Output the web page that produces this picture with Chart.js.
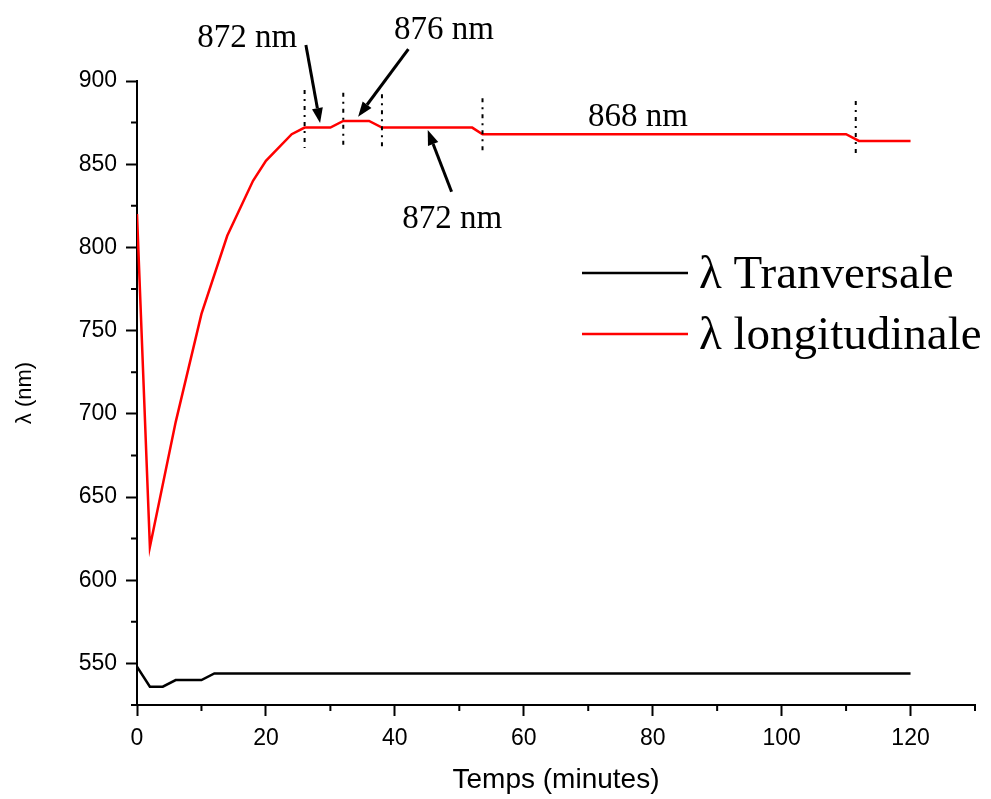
<!DOCTYPE html>
<html>
<head>
<meta charset="utf-8">
<script src="https://cdn.jsdelivr.net/npm/chart.js@4.4.1/dist/chart.umd.min.js"></script>
<style>
  body { margin: 0; background: #fff; }
</style>
</head>
<body>
<canvas id="myChart" width="991" height="799"></canvas>
<script>
// Readings: time (minutes) and wavelength (nm)
var tTrans = [0, 2, 4, 6, 10, 12, 120];
var lambdaTrans = [548, 536, 536, 540, 540, 544, 544];
var tLong = [0, 2, 6, 10, 14, 18, 20, 24, 26, 30, 32, 36, 38, 52, 53.6, 110, 112, 120];
var lambdaLong = [820, 620, 695, 760, 807, 840, 852, 868, 872, 872, 876, 876, 872, 872, 868, 868, 864, 864];

// Axis ticks
var xTicks = [0, 20, 40, 60, 80, 100, 120];
var xMinor = [10, 30, 50, 70, 90, 110, 130];
var yTicks = [550, 600, 650, 700, 750, 800, 850, 900];
var yMinor = [525, 575, 625, 675, 725, 775, 825, 875];

// Annotations (data units)
var noteText = ['872 nm', '876 nm', '868 nm', '872 nm'];
var noteX = [17.1, 47.6, 77.7, 48.9];
var noteY = [920.4, 925, 873.1, 811.6];
var arrowX0 = [26.2, 42.1, 48.8];
var arrowY0 = [921.6, 919.2, 833.4];
var arrowX1 = [28.4, 34.3, 45.1];
var arrowY1 = [874.7, 878.5, 870.5];
var markX = [26, 32, 38, 53.6, 111.5];
var markTop = [894.6, 893, 892, 889.6, 888];
var markBottom = [859.7, 859.5, 858.5, 856, 854.3];

function pts(xs, ys) {
  return xs.map(function (x, i) { return { x: x, y: ys[i] }; });
}

// minor ticks, shorter than the major ones
var minorTicks = {
  id: 'minorTicks',
  afterDraw: function (chart) {
    var ctx = chart.ctx, xs = chart.scales.x, ys = chart.scales.y;
    ctx.save();
    ctx.strokeStyle = '#000';
    ctx.lineWidth = 2;
    ctx.beginPath();
    xMinor.forEach(function (v) {
      var px = xs.getPixelForValue(v);
      ctx.moveTo(px, xs.top); ctx.lineTo(px, xs.top + 6);
    });
    yMinor.forEach(function (v) {
      var py = ys.getPixelForValue(v);
      ctx.moveTo(ys.right, py); ctx.lineTo(ys.right - 6, py);
    });
    ctx.stroke();
    ctx.restore();
  }
};

// dashed markers, arrows and labels
var notes = {
  id: 'notes',
  afterDatasetsDraw: function (chart) {
    var ctx = chart.ctx, xs = chart.scales.x, ys = chart.scales.y;
    ctx.save();
    ctx.strokeStyle = '#000';
    ctx.lineWidth = 2;
    ctx.setLineDash([4, 5, 2, 5]);
    markX.forEach(function (v, i) {
      var px = xs.getPixelForValue(v);
      ctx.beginPath();
      ctx.moveTo(px, ys.getPixelForValue(markTop[i]));
      ctx.lineTo(px, ys.getPixelForValue(markBottom[i]));
      ctx.stroke();
    });
    ctx.setLineDash([]);
    ctx.fillStyle = '#000';
    ctx.lineWidth = 3;
    arrowX0.forEach(function (v, i) {
      var x0 = xs.getPixelForValue(v), y0 = ys.getPixelForValue(arrowY0[i]);
      var x1 = xs.getPixelForValue(arrowX1[i]), y1 = ys.getPixelForValue(arrowY1[i]);
      var a = Math.atan2(y1 - y0, x1 - x0), len = 15, hw = 5.5;
      var bx = x1 - len * Math.cos(a), by = y1 - len * Math.sin(a);
      ctx.beginPath();
      ctx.moveTo(x0, y0); ctx.lineTo(bx, by);
      ctx.stroke();
      ctx.beginPath();
      ctx.moveTo(x1, y1);
      ctx.lineTo(bx + hw * Math.sin(a), by - hw * Math.cos(a));
      ctx.lineTo(bx - hw * Math.sin(a), by + hw * Math.cos(a));
      ctx.closePath();
      ctx.fill();
    });
    ctx.font = '33px "Liberation Serif", "Times New Roman", serif';
    ctx.textAlign = 'center';
    ctx.textBaseline = 'alphabetic';
    noteText.forEach(function (t, i) {
      ctx.fillText(t, xs.getPixelForValue(noteX[i]), ys.getPixelForValue(noteY[i]));
    });
    ctx.restore();
  }
};

// legend drawn inside the plot
var innerLegend = {
  id: 'innerLegend',
  afterDraw: function (chart) {
    var ctx = chart.ctx, area = chart.chartArea;
    var x = area.left + 445, y = area.top + 192;
    ctx.save();
    ctx.font = '47px "Liberation Serif", "Times New Roman", serif';
    ctx.textAlign = 'left';
    ctx.textBaseline = 'alphabetic';
    chart.data.datasets.forEach(function (ds, i) {
      var ly = y + i * 61;
      ctx.strokeStyle = ds.borderColor;
      ctx.lineWidth = 2.5;
      ctx.beginPath();
      ctx.moveTo(x, ly); ctx.lineTo(x + 106, ly);
      ctx.stroke();
      ctx.fillStyle = '#000';
      ctx.fillText(ds.label, x + 117, ly + 15);
    });
    ctx.restore();
  }
};

var tickFont = { family: '"Liberation Sans", Arial, sans-serif', size: 23 };

var ctx = document.getElementById('myChart');
var myChart = new Chart(ctx, {
  type: 'line',
  data: {
    datasets: [
      {
        label: 'λ Tranversale',
        data: pts(tTrans, lambdaTrans),
        borderColor: '#000000',
        borderWidth: 2.5,
        pointRadius: 0,
        fill: false
      },
      {
        label: 'λ longitudinale',
        data: pts(tLong, lambdaLong),
        borderColor: '#ff0000',
        borderWidth: 2.5,
        pointRadius: 0,
        fill: false
      }
    ]
  },
  options: {
    responsive: false,
    animation: false,
    layout: { padding: { top: 81, right: 16, left: 0, bottom: 0 } },
    plugins: { legend: { display: false }, tooltip: { enabled: false } },
    scales: {
      x: {
        type: 'linear',
        min: 0,
        max: 130,
        afterBuildTicks: function (s) { s.ticks = xTicks.map(function (v) { return { value: v }; }); },
        afterFit: function (s) { s.height = 94; },
        border: { color: '#000', width: 2 },
        grid: { drawOnChartArea: false, tickLength: 11, tickWidth: 2, tickColor: '#000' },
        ticks: { color: '#000', font: tickFont, padding: 9, maxRotation: 0 },
        title: {
          display: true,
          text: 'Temps (minutes)',
          color: '#000',
          font: { family: '"Liberation Sans", Arial, sans-serif', size: 28 },
          padding: { top: 0, bottom: 2 }
        }
      },
      y: {
        min: 525,
        max: 900,
        afterBuildTicks: function (s) { s.ticks = yTicks.map(function (v) { return { value: v }; }); },
        afterFit: function (s) { s.width = 137; },
        border: { color: '#000', width: 2 },
        grid: { drawOnChartArea: false, tickLength: 11, tickWidth: 2, tickColor: '#000' },
        ticks: { color: '#000', font: tickFont, padding: 9 },
        title: {
          display: true,
          text: 'λ (nm)',
          color: '#000',
          font: { family: '"Liberation Sans", Arial, sans-serif', size: 22 },
          padding: { top: 12, bottom: 0 }
        }
      }
    }
  },
  plugins: [minorTicks, notes, innerLegend]
});
</script>
</body>
</html>
